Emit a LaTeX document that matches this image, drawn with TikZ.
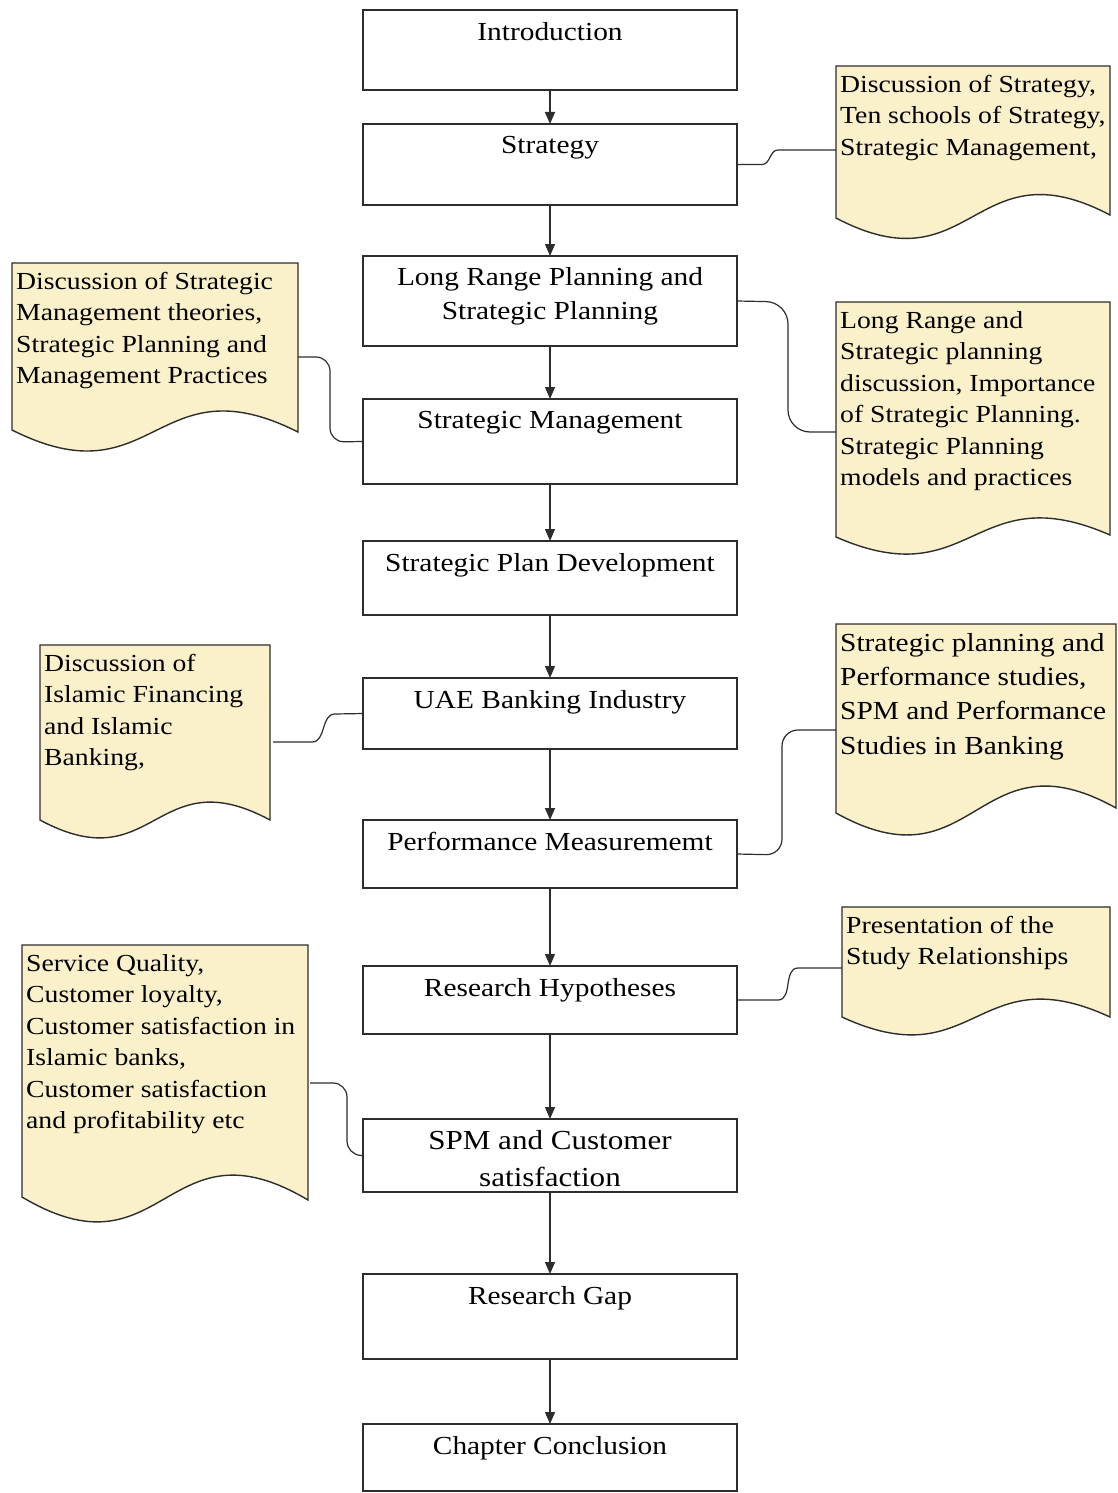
\documentclass[tikz,border=0pt]{standalone}
\usepackage{fontspec}
\setmainfont[FakeStretch=1.13]{Liberation Serif}
\usetikzlibrary{positioning, arrows.meta}

\definecolor{notecream}{RGB}{250,240,202}
\definecolor{linegray}{RGB}{45,45,45}

% note sheet with a wavy bottom edge: left, top, right, bottom left, bottom right, wave
\newcommand{\notesheet}[6]{%
  \draw[notesheet] (#1,#2) -- (#3,#2) -- (#3,#5)
    .. controls ({(#1+#3)/2},{#5-#6}) and ({(#1+#3)/2},{#4+#6}) .. (#1,#4) -- cycle;}

\begin{document}
\begin{tikzpicture}[x=1pt, y=-1pt,
  mainbox/.style={draw=linegray, line width=1.6pt, minimum width=374pt, inner sep=0pt, outer sep=0pt},
  boxtext/.style={font=\fontsize{26pt}{34pt}\selectfont, align=center, inner sep=0pt},
  notesheet/.style={draw=linegray, line width=1.4pt, fill=notecream},
  notetext/.style={font=\fontsize{24.5pt}{31.5pt}\selectfont, align=left, inner sep=0pt, anchor=north west},
  flow/.style={-{Triangle[length=12pt,width=10pt]}, line width=1.3pt, draw=linegray},
  link/.style={line width=1.2pt, draw=linegray}]
  \useasboundingbox (0,0) rectangle (1118,1493);

  % main chain
  \node[mainbox, minimum height=80pt] (intro) at (550,50) {};
  \node[mainbox, minimum height=81pt, below=34pt of intro] (strat) {};
  \node[mainbox, minimum height=90pt, below=51pt of strat] (lrp) {};
  \node[mainbox, minimum height=85pt, below=53pt of lrp] (smgmt) {};
  \node[mainbox, minimum height=74pt, below=57pt of smgmt] (spd) {};
  \node[mainbox, minimum height=71pt, below=63pt of spd] (uae) {};
  \node[mainbox, minimum height=68pt, below=71pt of uae] (perf) {};
  \node[mainbox, minimum height=68pt, below=78pt of perf] (hyp) {};
  \node[mainbox, minimum height=73pt, below=85pt of hyp] (spm) {};
  \node[mainbox, minimum height=85pt, below=82pt of spm] (gap) {};
  \node[mainbox, minimum height=67pt, below=65pt of gap] (concl) {};

  \node[boxtext, below=12pt of intro.north] (introT) {Introduction};
  \node[boxtext, below=12pt of strat.north] (stratT) {Strategy};
  \node[boxtext, below=11pt of lrp.north] (lrpT) {Long Range Planning and\\Strategic Planning};
  \node[boxtext, below=12pt of smgmt.north] (smgmtT) {Strategic Management};
  \node[boxtext, below=12pt of spd.north] (spdT) {Strategic Plan Development};
  \node[boxtext, below=12pt of uae.north] (uaeT) {UAE Banking Industry};
  \node[boxtext, below=12pt of perf.north] (perfT) {Performance Measurememt};
  \node[boxtext, below=12pt of hyp.north] (hypT) {Research Hypotheses};
  \node[boxtext, below=11pt of spm.north, font=\fontsize{27.5pt}{37pt}\selectfont] (spmT) {SPM and Customer\\satisfaction};
  \node[boxtext, below=12pt of gap.north] (gapT) {Research Gap};
  \node[boxtext, below=12pt of concl.north] (conclT) {Chapter Conclusion};

  \foreach \a/\b in {intro/strat, strat/lrp, lrp/smgmt, smgmt/spd, spd/uae,
                     uae/perf, perf/hyp, hyp/spm, spm/gap, gap/concl}
    \draw[flow] (\a.south) -- (\b.north);

  % side notes
  \notesheet{836}{66}{1110}{218}{215}{72}
  \notesheet{12}{263}{298}{430}{432}{72}
  \notesheet{836}{302}{1110}{537}{535}{60}
  \notesheet{40}{645}{270}{820}{820}{62}
  \notesheet{836}{624}{1116}{813}{808}{78}
  \notesheet{22}{945}{308}{1197}{1200}{85}
  \notesheet{842}{907}{1110}{1017}{1017}{62}

  \node[notetext] (noteA) at (840,75) {Discussion of Strategy,\\Ten schools of Strategy,\\Strategic Management,};
  \node[notetext] (noteB) at (16,272) {Discussion of Strategic\\Management theories,\\Strategic Planning and\\Management Practices};
  \node[notetext] (noteC) at (840,311) {Long Range and\\Strategic planning\\discussion, Importance\\of Strategic Planning.\\Strategic Planning\\models and practices};
  \node[notetext] (noteD) at (44,654) {Discussion of\\Islamic Financing\\and Islamic\\Banking,};
  \node[notetext, font=\fontsize{26pt}{34.3pt}\selectfont] (noteE) at (840,633) {Strategic planning and\\Performance studies,\\SPM and Performance\\Studies in Banking};
  \node[notetext] (noteF) at (26,954) {Service Quality,\\Customer loyalty,\\Customer satisfaction in\\Islamic banks,\\Customer satisfaction\\and profitability etc};
  \node[notetext] (noteG) at (846,916) {Presentation of the\\Study Relationships};

  \coordinate (nA) at (836,150);
  \coordinate (nB) at (298,357);
  \coordinate (nC) at (836,432);
  \coordinate (nD) at (273,742);
  \coordinate (nE) at (836,730);
  \coordinate (nF) at (310,1083);
  \coordinate (nG) at (842,968);

  % links from the chain to the notes
  \draw[link] (strat.east) -- ++(25,0) to[out=0,in=180] (778,150) -- (nA);
  \draw[link, rounded corners=14pt] (nB) -- (330,357) -- (330,442) -- (smgmt.west);
  \draw[link, rounded corners=22pt] (lrp.east) -- (788,302) -- (788,432) -- (nC);
  \draw[link] (nD) -- (312,742) to[out=0,in=180] (335,714) -- (uae.west);
  \draw[link, rounded corners=16pt] (perf.east) -- (782,855) -- (782,730) -- (nE);
  \draw[link, rounded corners=14pt] (nF) -- (347,1083) -- (347,1155) -- (spm.west);
  \draw[link] (hyp.east) -- ++(41,0) to[out=0,in=180] (798,968) -- (nG);
\end{tikzpicture}
\end{document}
